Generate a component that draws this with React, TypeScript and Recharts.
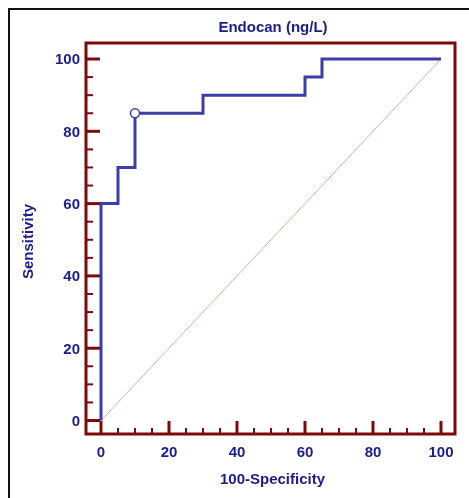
import React from 'react';
import { ComposedChart, Line, Scatter, XAxis, YAxis, ReferenceArea, Label } from 'recharts';

// ROC curve for Endocan (ng/L): step curve + chance diagonal + criterion marker.

const FPR = [0, 0, 5, 5, 10, 10, 30, 30, 60, 60, 65, 65, 100]; // 100-Specificity
const TPR = [0, 60, 60, 70, 70, 85, 85, 90, 90, 95, 95, 100, 100]; // Sensitivity
const DIAG_X = [0, 100];
const DIAG_Y = [0, 100];
const CRITERION_X = [10];
const CRITERION_Y = [85];
const TICKS = [0, 5, 10, 15, 20, 25, 30, 35, 40, 45, 50, 55, 60, 65, 70, 75, 80, 85, 90, 95, 100];
const LABELED = [0, 20, 40, 60, 80, 100];

const X_DOMAIN: [number, number] = [-4.41, 104.12];
const Y_DOMAIN: [number, number] = [-3.73, 104.43];

const NAVY = '#1c1c8c';
const CURVE = '#3d3da8';
const MAROON = '#7d0a0a';
const DIAG = '#e2a9a9';
const FONT = '"Liberation Sans", Arial, sans-serif';

const rocData = FPR.map((x, i) => ({ x, y: TPR[i] }));
const diagData = DIAG_X.map((x, i) => ({ x, y: DIAG_Y[i] }));
const criterionData = CRITERION_X.map((x, i) => ({ x, y: CRITERION_Y[i] }));

function YTick(props: any) {
  const { x, y, payload } = props;
  const v = payload.value;
  const major = LABELED.includes(v);
  return (
    <g>
      <line x1={x} x2={x + (major ? 14 : 7)} y1={y} y2={y} stroke={MAROON} strokeWidth={major ? 3 : 2} />
      {major && (
        <text x={x - 6} y={y + 5.3} textAnchor="end" fill={NAVY} fontFamily={FONT} fontWeight={700} fontSize={15}>
          {v}
        </text>
      )}
    </g>
  );
}

function XTick(props: any) {
  const { x, y, payload } = props;
  const v = payload.value;
  const major = LABELED.includes(v);
  return (
    <g>
      <line x1={x} x2={x} y1={y} y2={y - (major ? 13 : 6)} stroke={MAROON} strokeWidth={major ? 3 : 2} />
      {major && (
        <text x={x} y={y + 22.5} textAnchor="middle" fill={NAVY} fontFamily={FONT} fontWeight={700} fontSize={15}>
          {v}
        </text>
      )}
    </g>
  );
}

export default function App() {
  return (
    <div
      style={{
        position: 'fixed',
        left: 8,
        top: 8,
        width: 461,
        height: 490,
        borderLeft: '2px solid #111',
        borderTop: '2px solid #111',
        boxSizing: 'border-box',
        background: '#fff',
      }}
    >
      <div
        style={{
          position: 'absolute',
          left: 0,
          width: 526,
          top: 8,
          textAlign: 'center',
          fontFamily: FONT,
          fontWeight: 700,
          fontSize: 15,
          color: NAVY,
        }}
      >
        Endocan (ng/L)
      </div>
      <ComposedChart width={459} height={488} margin={{ top: 33, right: 14, left: 0, bottom: 0 }}>
        <XAxis
          dataKey="x"
          type="number"
          domain={X_DOMAIN}
          allowDataOverflow
          ticks={TICKS}
          interval={0}
          tickSize={0}
          tickMargin={0}
          tickLine={false}
          axisLine={false}
          tick={<XTick />}
          height={64}
        >
          <Label
            content={({ viewBox }: any) => (
              <text
                x={viewBox.x + viewBox.width / 2 + 2}
                y={viewBox.y + 50}
                textAnchor="middle"
                fill={NAVY}
                fontFamily={FONT}
                fontWeight={700}
                fontSize={15}
              >
                100-Specificity
              </text>
            )}
          />
        </XAxis>
        <YAxis
          dataKey="y"
          type="number"
          domain={Y_DOMAIN}
          allowDataOverflow
          ticks={TICKS}
          interval={0}
          tickSize={0}
          tickMargin={0}
          tickLine={false}
          axisLine={false}
          tick={<YTick />}
          width={76}
        >
          <Label
            content={({ viewBox }: any) => {
              const cx = 17;
              const cy = viewBox.y + viewBox.height / 2 + 3;
              return (
                <text
                  x={cx}
                  y={cy}
                  transform={`rotate(-90 ${cx} ${cy})`}
                  textAnchor="middle"
                  dominantBaseline="central"
                  fill={NAVY}
                  fontFamily={FONT}
                  fontWeight={700}
                  fontSize={15}
                >
                  Sensitivity
                </text>
              );
            }}
          />
        </YAxis>
        <Line
          data={diagData}
          dataKey="y"
          type="linear"
          stroke={DIAG}
          strokeWidth={1}
          dot={false}
          activeDot={false}
          isAnimationActive={false}
        />
        <Line
          data={rocData}
          dataKey="y"
          type="linear"
          stroke={CURVE}
          strokeWidth={3}
          dot={false}
          activeDot={false}
          isAnimationActive={false}
        />
        <Scatter
          data={criterionData}
          dataKey="y"
          isAnimationActive={false}
          shape={(p: any) => <circle cx={p.cx} cy={p.cy} r={4.5} fill="#fff" stroke={CURVE} strokeWidth={1.5} />}
        />
        <ReferenceArea
          x1={X_DOMAIN[0]}
          x2={X_DOMAIN[1]}
          y1={Y_DOMAIN[0]}
          y2={Y_DOMAIN[1]}
          fill="none"
          stroke={MAROON}
          strokeWidth={3}
          ifOverflow="visible"
        />
      </ComposedChart>
    </div>
  );
}
